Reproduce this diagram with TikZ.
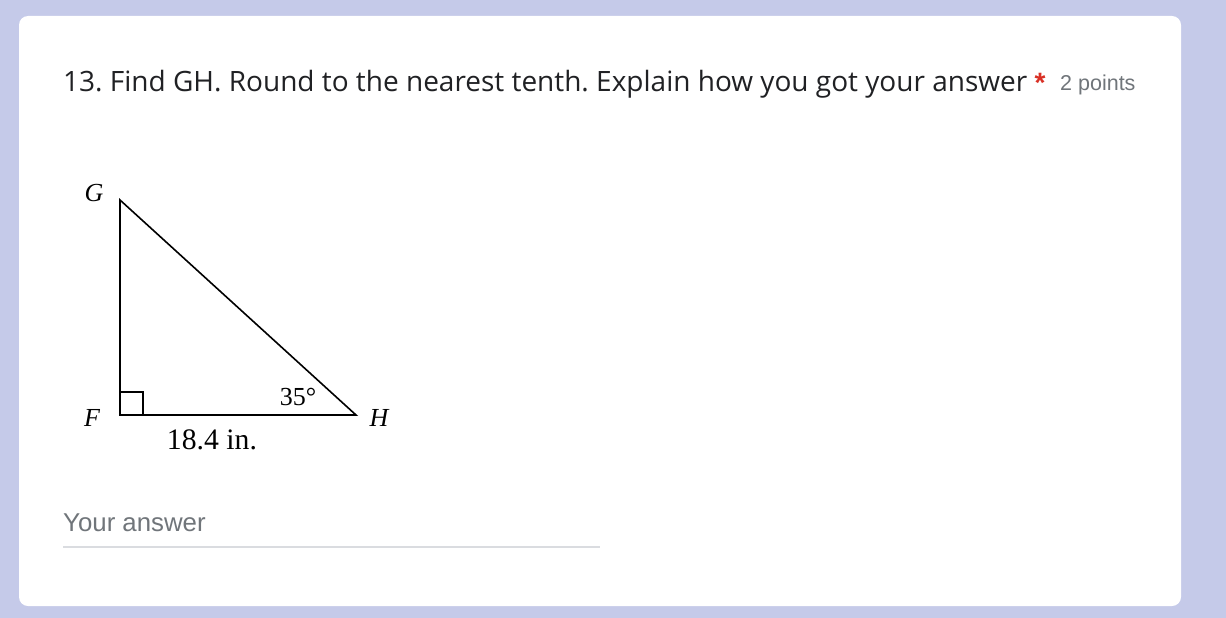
\documentclass[tikz,border=0pt]{standalone}
\usepackage{fontspec}
\setmainfont{Liberation Serif}
\newfontfamily\uisans{Open Sans}
\newfontfamily\smallsans{Liberation Sans}
\definecolor{bgblue}{HTML}{C5CAE9}
\definecolor{titlecol}{HTML}{202124}
\definecolor{graytext}{HTML}{70757A}
\definecolor{linegray}{HTML}{DADCE0}
\definecolor{starred}{HTML}{D93025}
\tikzset{
  tri/.style={line width=1.6pt, black, line join=miter},
  vlabel/.style={font=\fontsize{26}{26}\selectfont\itshape, inner sep=0pt},
  mlabel/.style={font=\fontsize{26}{26}\selectfont, inner sep=0pt},
}
\begin{document}
\frenchspacing
\begin{tikzpicture}[x=1pt,y=-1pt]
\useasboundingbox (0,0) rectangle (1226,618);
\fill[bgblue] (0,0) rectangle (1226,618);
\fill[white, rounded corners=9pt] (19,16) rectangle (1181,606);
% title
\node[anchor=base west, inner sep=0pt, text=titlecol, font=\uisans\fontsize{26}{26}\selectfont] (title) at (63,91) {\resizebox{964pt}{!}{13. Find GH. Round to the nearest tenth. Explain how you got your answer}};
\node[inner sep=0pt, text=starred, font=\smallsans\bfseries\fontsize{28}{28}\selectfont] (star) at (1040,83) {*};
\node[anchor=base west, inner sep=0pt, text=graytext, font=\smallsans\fontsize{21.5}{21.5}\selectfont] (pts) at (1060,90) {2 points};
% triangle
\coordinate (F) at (120,415);
\coordinate (G) at (120,200);
\coordinate (H) at (356,415);
\draw[tri] (F) -- (G) -- (H) -- cycle;
\draw[line width=1.6pt] (120,392) -- (143,392) -- (143,415);
\node[vlabel] (Gl) at (94,193) {G};
\node[vlabel] (Fl) at (92,418) {F};
\node[vlabel] (Hl) at (379,418) {H};
\node[mlabel] (side) at (212,440) {\resizebox{90pt}{!}{18.4 in.}};
\node[mlabel] (ang) at (298,397) {35°};
% answer
\node[anchor=base west, inner sep=0pt, text=graytext, font=\smallsans\fontsize{25.8}{25.8}\selectfont] (ans) at (63,531) {Your answer};
\draw[linegray, line width=1.5pt] (63,547) -- (600,547);
\end{tikzpicture}
\end{document}
